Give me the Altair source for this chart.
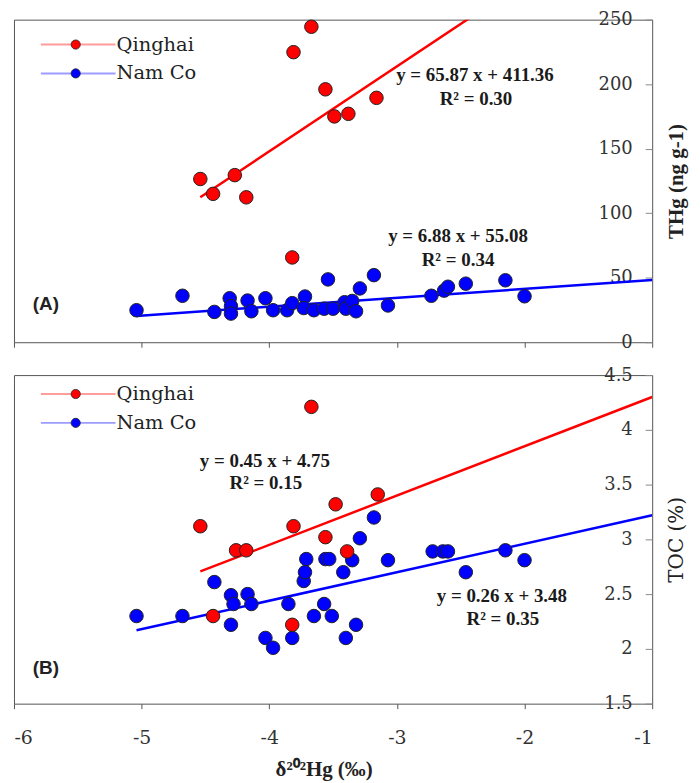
import altair as alt
import pandas as pd

SERIF_B = "Liberation Serif"
SERIF_R = "DejaVu Serif"
SANS = "Liberation Sans"

SERIES = ["Qinghai", "Nam Co"]
SERIES_COLORS = ["#FF0000", "#0000FF"]
LEGEND_LINE_COLORS = ["#FF9C9C", "#9C9CFF"]

X_DOMAIN = [-6, -1]
X_TICKS = [-6, -5, -4, -3, -2, -1]
X_TITLE = "δ²⁰²Hg (‰)"

# ---- Panel A: THg ----
QH_X_A = [-4.54, -4.44, -4.27, -4.18, -3.82, -3.81, -3.67, -3.56, -3.49, -3.38, -3.16]
QH_THG = [126.5, 115.0, 129.5, 112.3, 65.7, 224.8, 244.5, 196.0, 175.0, 177.0, 189.4]
NC_X_A = [-5.04, -4.68, -4.43, -4.31, -4.30, -4.30, -4.17, -4.14, -4.03, -3.97,
          -3.86, -3.82, -3.72, -3.73, -3.65, -3.57, -3.54, -3.50, -3.41, -3.40,
          -3.35, -3.32, -3.29, -3.18, -3.07, -2.73, -2.63, -2.60, -2.46, -2.15, -2.00]
NC_THG = [24.8, 36.0, 23.5, 34.1, 28.0, 22.2, 32.3, 24.0, 34.1, 24.8,
          24.8, 30.3, 35.4, 26.5, 24.8, 26.0, 48.7, 26.0, 31.0, 26.0,
          32.0, 24.0, 41.7, 52.0, 28.5, 36.0, 40.0, 43.0, 45.4, 48.0, 35.6]
THG_DOMAIN = [0, 250]
THG_TICKS = [0, 50, 100, 150, 200, 250]
THG_TITLE = "THg (ng g-1)"
FIT_SLOPE_THG = [65.87, 6.88]
FIT_INTERCEPT_THG = [411.36, 55.08]
R2_THG = [0.30, 0.34]

# ---- Panel B: TOC ----
QH_X_B = [-4.54, -4.44, -4.26, -4.18, -3.82, -3.81, -3.67, -3.56, -3.48, -3.39, -3.15]
QH_TOC = [3.12, 2.30, 2.90, 2.90, 2.22, 3.12, 4.21, 3.02, 3.32, 2.89, 3.41]
NC_X_B = [-5.04, -4.68, -4.43, -4.30, -4.28, -4.30, -4.17, -4.14, -4.03, -3.97,
          -3.85, -3.82, -3.73, -3.72, -3.71, -3.65, -3.57, -3.56, -3.53, -3.51,
          -3.42, -3.40, -3.35, -3.32, -3.29, -3.18, -3.07, -2.72, -2.64, -2.60,
          -2.46, -2.15, -2.00]
NC_TOC = [2.30, 2.30, 2.61, 2.49, 2.41, 2.22, 2.50, 2.41, 2.10, 2.01,
          2.41, 2.10, 2.62, 2.70, 2.82, 2.30, 2.41, 2.82, 2.82, 2.30,
          2.70, 2.10, 2.81, 2.22, 3.01, 3.20, 2.81, 2.89, 2.89, 2.89,
          2.70, 2.90, 2.81]
TOC_DOMAIN = [1.5, 4.5]
TOC_TICKS = [1.5, 2, 2.5, 3, 3.5, 4, 4.5]
TOC_TITLE = "TOC (%)"
FIT_SLOPE_TOC = [0.45, 0.26]
FIT_INTERCEPT_TOC = [4.75, 3.48]
R2_TOC = [0.15, 0.35]

W = 641
H_A = 324
H_B = 330


def make_panel(xq, yq, xn, yn, slopes, intercepts, r2s, ydomain, yticks, ytitle,
               ytitle_bold, height, show_x_labels, legend_y, eq_pos, tag, tag_y):
    # fitted lines from min(x) to right edge of axis
    rows = []
    for name, xs, m, b in zip(SERIES, [xq, xn], slopes, intercepts):
        for xv in [min(xs), X_DOMAIN[1]]:
            rows.append({"x": xv, "y": m * xv + b, "series": name})
    fit_df = pd.DataFrame(rows)
    q_df = pd.DataFrame({"x": xq, "y": yq})
    n_df = pd.DataFrame({"x": xn, "y": yn})

    x_kwargs = dict(values=X_TICKS, grid=False, domain=False, ticks=True, tickSize=5,
                    tickColor="#555", labels=show_x_labels)
    if show_x_labels:
        x_kwargs.update(labelExpr="'' + datum.value", labelFont=SERIF_R, labelFontSize=19,
                        labelColor="#333", labelBaseline="middle", labelPadding=29,
                        title=X_TITLE, titleFont=SERIF_B, titleFontSize=21,
                        titleFontWeight="bold", titleColor="#222", titleBaseline="middle",
                        titleY=66, titleX=311)
    else:
        x_kwargs.update(title=None)
    x_enc = alt.X("x:Q", scale=alt.Scale(domain=X_DOMAIN, nice=False, zero=False),
                  axis=alt.Axis(**x_kwargs))
    y_enc = alt.Y("y:Q", scale=alt.Scale(domain=ydomain, nice=False, zero=False),
                  axis=alt.Axis(orient="right", values=yticks, grid=False, domain=False,
                                offset=-7, tickSize=7, tickColor="#888",
                                labelExpr="'' + datum.value", labelAlign="right",
                                labelBaseline="middle", labelPadding=-20,
                                labelFlush=True, labelFlushOffset=9,
                                labelFont=SERIF_R, labelFontSize=18, labelColor="#333",
                                title=ytitle,
                                titleFont=SERIF_B if ytitle_bold else SERIF_R,
                                titleFontSize=21 if ytitle_bold else 20,
                                titleFontWeight="bold" if ytitle_bold else "normal",
                                titleColor="#222", titleAngle=270, titleBaseline="middle",
                                titleAlign="center", titleX=31, titleY=height / 2))

    fit = alt.Chart(fit_df).mark_line(strokeWidth=2.5, clip=True).encode(
        x=x_enc, y=y_enc,
        color=alt.Color("series:N", scale=alt.Scale(domain=SERIES, range=SERIES_COLORS),
                        legend=None),
        detail="series:N")
    pts_n = alt.Chart(n_df).mark_circle(size=184, color=SERIES_COLORS[1], opacity=1,
                                        stroke="#222", strokeWidth=1).encode(x=x_enc, y=y_enc)
    pts_q = alt.Chart(q_df).mark_circle(size=184, color=SERIES_COLORS[0], opacity=1,
                                        stroke="#222", strokeWidth=1).encode(x=x_enc, y=y_enc)

    layers = [fit, pts_n, pts_q]

    # legend (top-left, inside plot)
    for i, name in enumerate(SERIES):
        ldf = pd.DataFrame({"series": [name]})
        ly = legend_y[i]
        layers.append(alt.Chart(ldf).mark_rule(color=LEGEND_LINE_COLORS[i], strokeWidth=2).encode(
            x=alt.value(27), x2=alt.value(102), y=alt.value(ly)))
        layers.append(alt.Chart(ldf).mark_circle(size=85, color=SERIES_COLORS[i], opacity=1,
                                                 stroke="#222", strokeWidth=0.8).encode(
            x=alt.value(62), y=alt.value(ly)))
        layers.append(alt.Chart(ldf).mark_text(align="left", baseline="middle", font=SERIF_R,
                                               fontSize=19.5, color="#222").encode(
            x=alt.value(103), y=alt.value(ly), text="series:N"))

    # regression equations
    for i, name in enumerate(SERIES):
        eq = f"y = {slopes[i]:.2f} x + {intercepts[i]:.2f}"
        r2 = f"R² = {r2s[i]:.2f}"
        edf = pd.DataFrame({"eq": [eq], "r2": [r2]})
        ex, ey, rx, ry = eq_pos[i]
        layers.append(alt.Chart(edf).mark_text(align="center", baseline="middle", font=SERIF_B,
                                               fontSize=19, fontWeight="bold", color="#1a1a1a").encode(
            x=alt.value(ex), y=alt.value(ey), text="eq:N"))
        layers.append(alt.Chart(edf).mark_text(align="center", baseline="middle", font=SERIF_B,
                                               fontSize=19, fontWeight="bold", color="#1a1a1a").encode(
            x=alt.value(rx), y=alt.value(ry), text="r2:N"))

    tdf = pd.DataFrame({"tag": [tag]})
    layers.append(alt.Chart(tdf).mark_text(align="center", baseline="middle", font=SANS,
                                           fontSize=19, fontWeight="bold", color="#222").encode(
        x=alt.value(32), y=alt.value(tag_y), text="tag:N"))

    return alt.layer(*layers).properties(width=W, height=height)


panel_a = make_panel(QH_X_A, QH_THG, NC_X_A, NC_THG, FIT_SLOPE_THG, FIT_INTERCEPT_THG, R2_THG,
                     THG_DOMAIN, THG_TICKS, THG_TITLE, True, H_A, False,
                     legend_y=[25, 54],
                     eq_pos=[(463, 56, 464, 80), (446, 217, 446, 241)],
                     tag="(A)", tag_y=286)
panel_b = make_panel(QH_X_B, QH_TOC, NC_X_B, NC_TOC, FIT_SLOPE_TOC, FIT_INTERCEPT_TOC, R2_TOC,
                     TOC_DOMAIN, TOC_TICKS, TOC_TITLE, False, H_B, True,
                     legend_y=[19, 48],
                     eq_pos=[(252, 86, 253, 108), (490, 222, 491, 245)],
                     tag="(B)", tag_y=294)

chart = alt.vconcat(panel_a, panel_b, spacing=13).properties(
    padding={"left": 5, "top": 0, "right": 5, "bottom": 0}
).configure_view(stroke="#555", strokeWidth=1)

chart.save("out.html", embed_options={"renderer": "svg", "actions": False})
